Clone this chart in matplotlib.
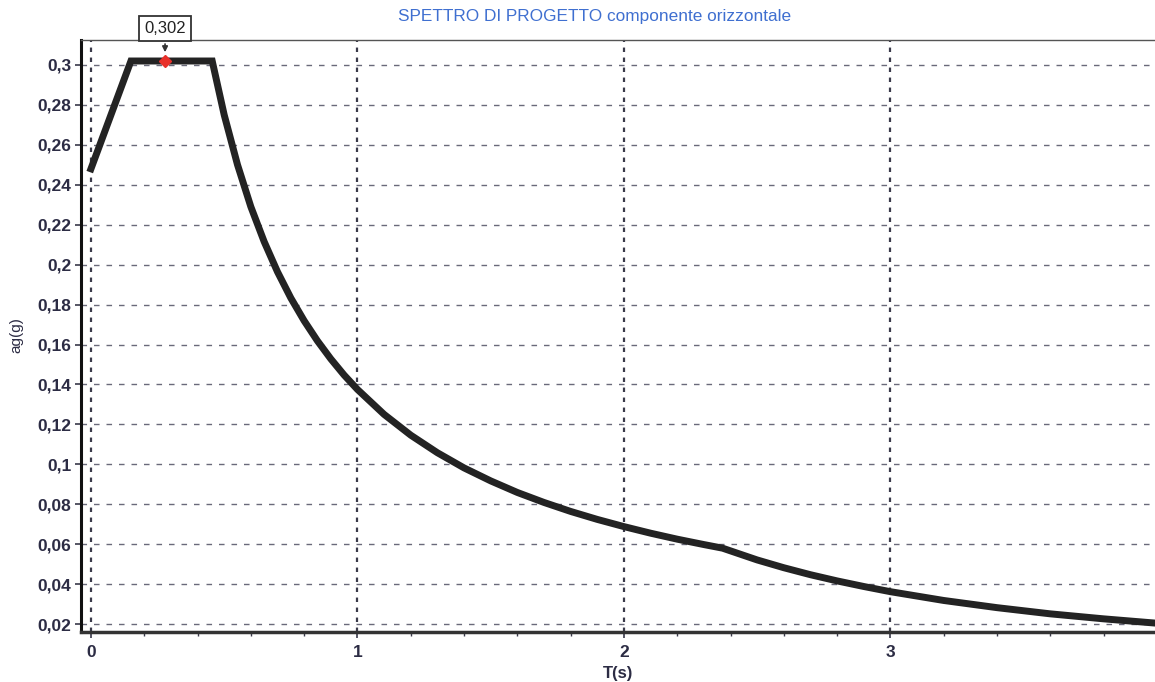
import matplotlib.pyplot as plt
from matplotlib.ticker import FixedLocator, FuncFormatter, MultipleLocator

plt.rcParams['font.family'] = ['Liberation Sans', 'DejaVu Sans']

# Periodo T (s) e accelerazione spettrale ag(g), spettro di progetto orizzontale
periodo = [0.0, 0.15, 0.455, 0.5, 0.55, 0.6, 0.65, 0.7, 0.75, 0.8, 0.85, 0.9,
           0.95, 1.0, 1.1, 1.2, 1.3, 1.4, 1.5, 1.6, 1.7, 1.8, 1.9, 2.0, 2.1,
           2.2, 2.3, 2.37, 2.5, 2.6, 2.7, 2.8, 2.9, 3.0, 3.2, 3.4, 3.6, 3.8, 4.0]
accel = [0.248, 0.302, 0.302, 0.275, 0.250, 0.229, 0.2115, 0.1964, 0.1833,
         0.1719, 0.1618, 0.1528, 0.1447, 0.1375, 0.125, 0.1146, 0.1058,
         0.0982, 0.0917, 0.0859, 0.0809, 0.0764, 0.0724, 0.0688, 0.0655,
         0.0625, 0.0598, 0.058, 0.0521, 0.0482, 0.0447, 0.0416, 0.0388,
         0.0362, 0.0318, 0.0282, 0.0251, 0.0226, 0.0204]

# punto evidenziato sul plateau
t_max = 0.278
a_max = 0.302

y_ticks = [0.02, 0.04, 0.06, 0.08, 0.1, 0.12, 0.14, 0.16, 0.18, 0.2, 0.22,
           0.24, 0.26, 0.28, 0.3]
x_ticks = [0, 1, 2, 3]

fig = plt.figure(figsize=(11.55, 6.82), dpi=100)
ax = fig.add_axes([0.0701, 0.0733, 0.9299, 0.868])

ax.plot(periodo, accel, color='#232323', linewidth=5, solid_joinstyle='miter',
        zorder=3)
ax.plot(t_max, a_max, marker='D', color='#e8302a', markersize=6, zorder=4)

ax.set_xlim(-0.0375, 3.993)
ax.set_ylim(0.016, 0.3125)

ax.xaxis.set_major_locator(FixedLocator(x_ticks))
ax.xaxis.set_minor_locator(MultipleLocator(0.2))
ax.yaxis.set_major_locator(FixedLocator(y_ticks))

def virgola(v, pos):
    s = f'{v:.2f}'.rstrip('0').rstrip('.')
    return s.replace('.', ',')

ax.yaxis.set_major_formatter(FuncFormatter(virgola))
ax.xaxis.set_major_formatter(FuncFormatter(lambda v, p: f'{v:g}'))

ax.grid(axis='y', which='major', linestyle=(0, (4, 5)), color='#6a6a7a',
        linewidth=1)
ax.grid(axis='x', which='major', linestyle=(0, (2, 2.5)), color='#3a3a4a',
        linewidth=1.6)

ax.tick_params(axis='both', which='major', labelsize=12.5, colors='#3a3a4a',
               labelcolor='#2c2c44', length=4, width=1.2, direction='out')
ax.tick_params(axis='x', which='minor', length=3, width=1, colors='#3a3a4a')
ax.tick_params(axis='x', which='major', pad=5)
ax.tick_params(axis='y', which='major', pad=3)
for lab in ax.get_xticklabels() + ax.get_yticklabels():
    lab.set_fontweight('bold')

ax.spines['right'].set_visible(False)
ax.spines['left'].set_linewidth(2.2)
ax.spines['left'].set_color('#111111')
ax.spines['bottom'].set_linewidth(2.5)
ax.spines['bottom'].set_color('#333333')
ax.spines['top'].set_linewidth(1)
ax.spines['top'].set_color('#555555')

ax.set_xlabel('T(s)', fontsize=12, fontweight='bold', color='#2c2c44')
ax.xaxis.set_label_coords(0.5, -0.0574)
ax.set_ylabel('ag(g)', fontsize=11, color='#2c2c44')
ax.yaxis.set_label_coords(-0.054, 0.502)

ax.annotate(f'{a_max:.3f}'.replace('.', ','), xy=(t_max, a_max + 0.003),
            xytext=(t_max, 0.3185), textcoords='data', ha='center',
            va='center', fontsize=12, color='#222222', annotation_clip=False,
            bbox=dict(boxstyle='square,pad=0.3', fc='white', ec='#333333',
                      lw=1.3),
            arrowprops=dict(arrowstyle='-|>', color='#333333', lw=1.2,
                            mutation_scale=8))

fig.text(0.515, 0.9765, 'SPETTRO DI PROGETTO componente orizzontale',
         ha='center', va='center', fontsize=12.4, color='#3f6fd0')

fig.savefig('out.png', dpi=100)
